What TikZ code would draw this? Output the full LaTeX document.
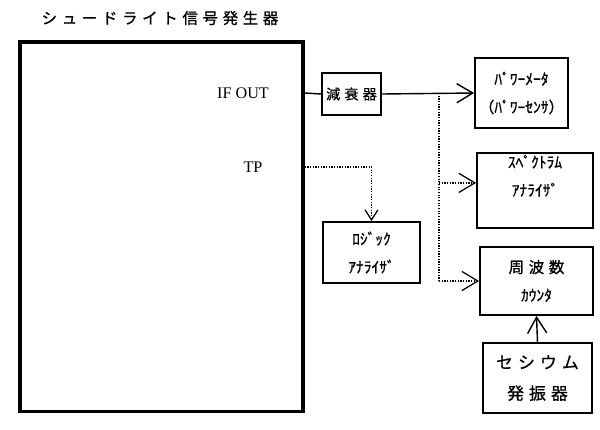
\documentclass[tikz,border=0pt]{standalone}
\usepackage{fontspec}
\setmainfont{Liberation Serif}
\newfontfamily\jp[FakeBold=0.8]{Noto Sans CJK JP}
\newfontfamily\jpwide[LetterSpace=30,FakeBold=0.8]{Noto Sans CJK JP}
\usetikzlibrary{arrows.meta}

\begin{document}
\begin{tikzpicture}[
  x=0.025cm,y=-0.025cm,
  box/.style={draw,line width=1.3pt,align=center,inner sep=0pt},
  kana/.style={font=\jp\fontsize{11}{20}\selectfont,align=center},
  sig/.style={line width=1pt,-{Straight Barb[length=4mm,width=4.8mm]}},
  dot/.style={densely dotted,line width=0.9pt,-{Straight Barb[length=4mm,width=4.8mm]}},
]
  \useasboundingbox (0,0) rectangle (600,429);

  % Generator
  \node[font=\jpwide\fontsize{11}{12}\selectfont] (title) at (160,18) {シュードライト信号発生器};
  \node[draw,line width=2.2pt,minimum width=7.075cm,minimum height=9.225cm] (gen) at (161.5,226.5) {};
  \node[font=\fontsize{11.5}{13}\selectfont] (ifout) at (243,93) {IF OUT};
  \node[font=\fontsize{11.5}{13}\selectfont] (tp) at (253,167) {TP};

  % Instruments
  \node[box,minimum width=1.475cm,minimum height=1.05cm,font=\jpwide\fontsize{10}{12}\selectfont] (att) at (351.5,94) {減衰器};
  \node[box,kana,minimum width=2.325cm,minimum height=1.75cm] (pm) at (521.5,93) {ﾊﾟﾜｰﾒｰﾀ\\（ﾊﾟﾜｰｾﾝｻ）};
  \node[box,minimum width=2.9cm,minimum height=1.875cm] (sa) at (535,190.5) {};
  \node[kana] (satext) at ([yshift=0.37cm]sa.center) {ｽﾍﾟｸﾄﾗﾑ\\ｱﾅﾗｲｻﾞ};
  \node[box,kana,minimum width=2.425cm,minimum height=1.525cm] (la) at (371.5,252.5) {ﾛｼﾞｯｸ\\ｱﾅﾗｲｻﾞ};
  \node[box,minimum width=2.825cm,minimum height=1.7cm,font=\jp\fontsize{11}{20}\selectfont] (fc) at (536.5,281)
    {{\jpwide\fontsize{11}{20}\selectfont 周波数}\\ｶｳﾝﾀ};
  \node[box,minimum width=2.725cm,minimum height=1.75cm,font=\jpwide\fontsize{12}{22}\selectfont] (cs) at (537.5,378)
    {セシウム\\発振器};

  % Connections
  \draw[line width=1pt] (gen.east |- ifout) -- (att.west);
  \draw[sig] (att.east) -- (pm.west);
  \coordinate (tap) at (439,93);
  \coordinate (sain) at ([yshift=0.19cm]sa.west);
  \draw[densely dotted,line width=0.9pt] (tap) -- (tap |- fc.west);
  \draw[dot] (tap |- sain) -- (sain);
  \draw[dot] (tap |- fc.west) -- (fc.west);
  \draw[densely dotted,line width=0.9pt,-{Straight Barb[length=2.5mm,width=3.2mm]}] (gen.east |- tp) -| (la.north);
  \draw[sig] (cs.north) -- (fc.south);
\end{tikzpicture}
\end{document}
